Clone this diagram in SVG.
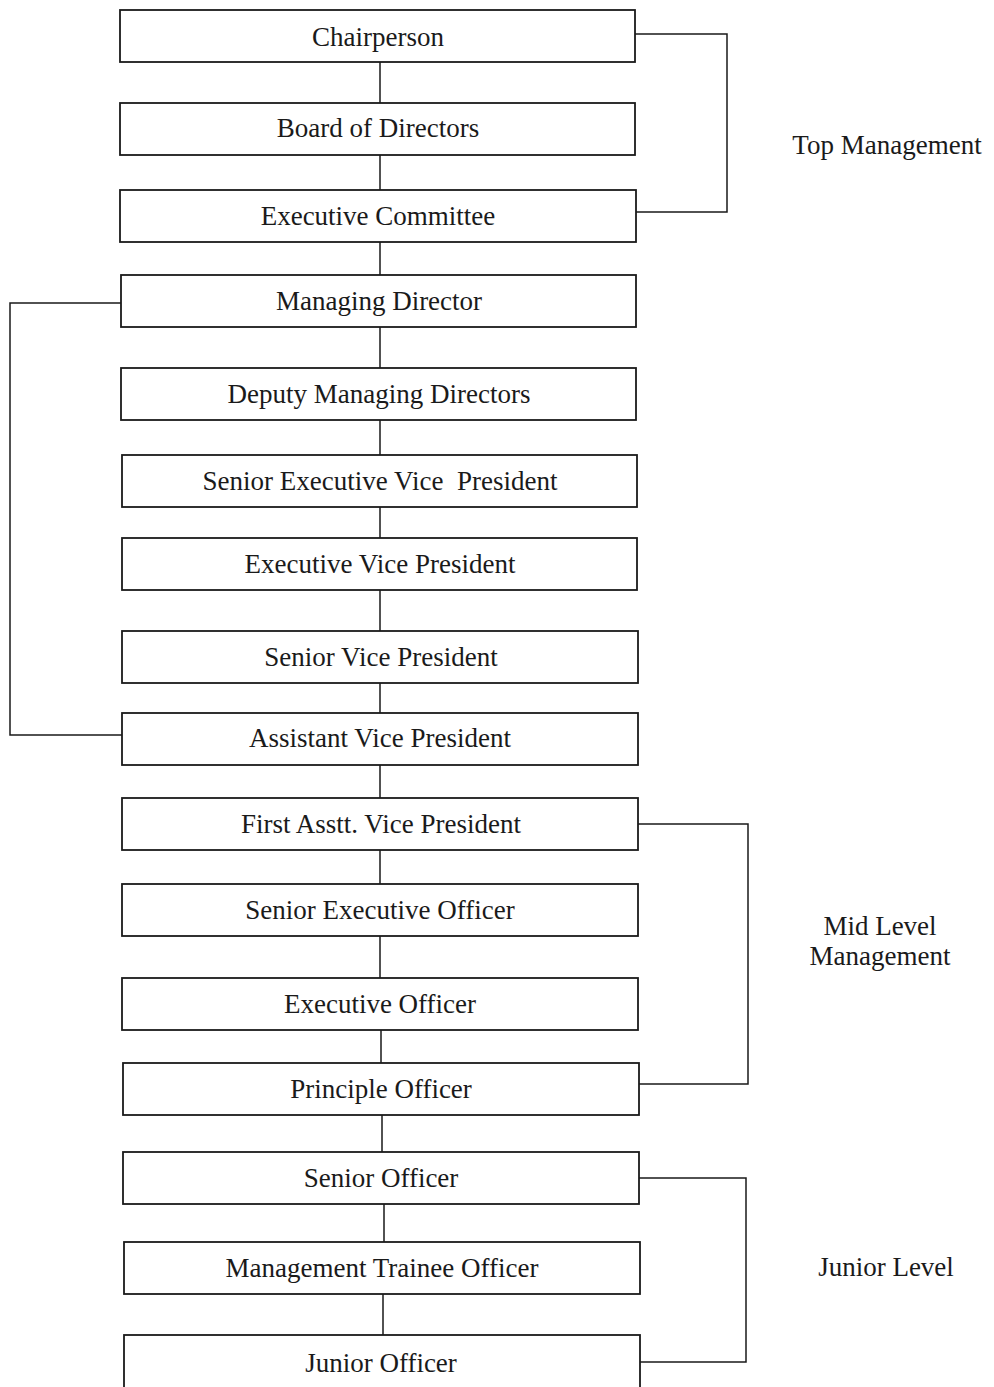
<svg xmlns="http://www.w3.org/2000/svg" width="994" height="1387" viewBox="0 0 994 1387">
<style>
.box rect{fill:#fff;stroke:#1a1a1a;stroke-width:1.8}
.box text,.lbl{font-family:"Liberation Serif",serif;font-size:27px;fill:#1a1a1a;text-anchor:middle}
.conn path{fill:none;stroke:#1a1a1a;stroke-width:1.5}
</style>
<rect width="994" height="1387" fill="#fff"/>
<g class="conn">
<path d="M380 62V103M380 155V190M380 242V275M380 327V368M380 420V455M380 507V538M380 590V631M380 683V713M380 765V798M380 850V884M380 936V978M381 1030V1063M382 1115V1152M384 1204V1242M383 1294V1335"/>
<path d="M635 34H727V212H636"/>
<path d="M121 303H10V735H122"/>
<path d="M638 824H748V1084H639"/>
<path d="M639 1178H746V1362H640"/>
</g>
<g id="n1" class="box"><rect x="120" y="10" width="515" height="52"/><text x="378" y="46">Chairperson</text></g>
<g id="n2" class="box"><rect x="120" y="103" width="515" height="52"/><text x="378" y="137">Board of Directors</text></g>
<g id="n3" class="box"><rect x="120" y="190" width="516" height="52"/><text x="378" y="225">Executive Committee</text></g>
<g id="n4" class="box"><rect x="121" y="275" width="515" height="52"/><text x="379" y="310">Managing Director</text></g>
<g id="n5" class="box"><rect x="121" y="368" width="515" height="52"/><text x="379" y="403">Deputy Managing Directors</text></g>
<g id="n6" class="box"><rect x="122" y="455" width="515" height="52"/><text x="380" y="490" xml:space="preserve">Senior Executive Vice  President</text></g>
<g id="n7" class="box"><rect x="122" y="538" width="515" height="52"/><text x="380" y="573">Executive Vice President</text></g>
<g id="n8" class="box"><rect x="122" y="631" width="516" height="52"/><text x="381" y="666">Senior Vice President</text></g>
<g id="n9" class="box"><rect x="122" y="713" width="516" height="52"/><text x="380" y="747">Assistant Vice President</text></g>
<g id="n10" class="box"><rect x="122" y="798" width="516" height="52"/><text x="381" y="833">First Asstt. Vice President</text></g>
<g id="n11" class="box"><rect x="122" y="884" width="516" height="52"/><text x="380" y="919">Senior Executive Officer</text></g>
<g id="n12" class="box"><rect x="122" y="978" width="516" height="52"/><text x="380" y="1013">Executive Officer</text></g>
<g id="n13" class="box"><rect x="123" y="1063" width="516" height="52"/><text x="381" y="1098">Principle Officer</text></g>
<g id="n14" class="box"><rect x="123" y="1152" width="516" height="52"/><text x="381" y="1187">Senior Officer</text></g>
<g id="n15" class="box"><rect x="124" y="1242" width="516" height="52"/><text x="382" y="1277">Management Trainee Officer</text></g>
<g id="n16" class="box"><rect x="124" y="1335" width="516" height="60"/><text x="381" y="1372">Junior Officer</text></g>
<g id="labels">
<text class="lbl" x="887" y="154">Top Management</text>
<text class="lbl" x="880" y="935">Mid Level</text>
<text class="lbl" x="880" y="965">Management</text>
<text class="lbl" x="886" y="1276">Junior Level</text>
</g>
</svg>
